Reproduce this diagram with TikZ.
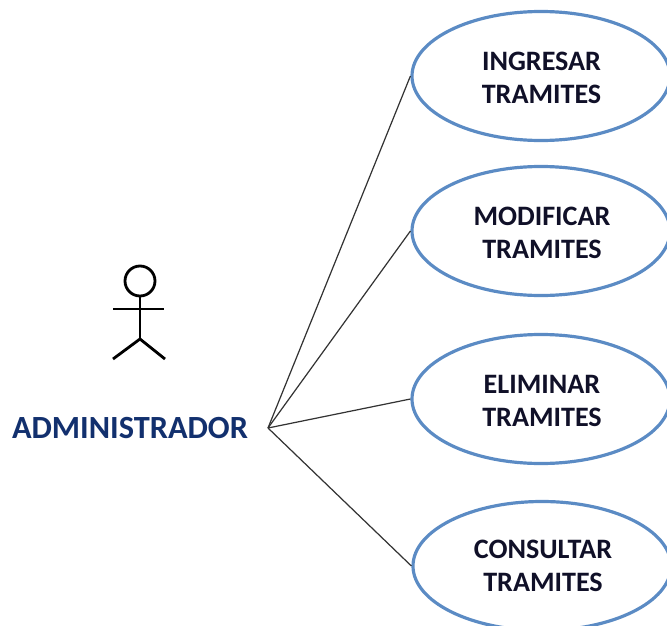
\documentclass[tikz,border=0pt]{standalone}
\usepackage{fontspec}
\setmainfont{Carlito}
\usetikzlibrary{shapes.geometric}
\definecolor{ublue}{HTML}{5B8BC4}
\definecolor{adm}{HTML}{12306E}
\definecolor{ucol}{HTML}{101028}
\tikzset{
 px/.style={x=0.0375cm,y=-0.0375cm},
 usecase/.style={ellipse,draw=ublue,line width=3.4pt,minimum width=258*0.0375cm,minimum height=129*0.0375cm,inner sep=0pt},
 ucl/.style={font=\fontsize{30}{36}\selectfont\bfseries,text=ucol,align=center},
 link/.style={draw=black!80,line width=1.3pt},
 actor/.style={draw=black,line width=3pt}
}
\begin{document}
\begin{tikzpicture}[px]
\useasboundingbox (0,0) rectangle (667,625);
\node[usecase] (a) at (541,76) {};
\node[usecase] (b) at (541,231) {};
\node[usecase] (c) at (541,399) {};
\node[usecase] (d) at (542,566) {};
\node[ucl] (ta) at (541.5,78) {INGRESAR\\TRAMITES};
\node[ucl] (tb) at (542,233) {MODIFICAR\\TRAMITES};
\node[ucl] (tc) at (542,401) {ELIMINAR\\TRAMITES};
\node[ucl] (td) at (543,566) {CONSULTAR\\TRAMITES};
\coordinate (hub) at (268,428);
\draw[link] (hub) -- (a.west);
\draw[link] (hub) -- (b.west);
\draw[link] (hub) -- (c.west);
\draw[link] (hub) -- (d.west);
\node[font=\fontsize{34.5}{40}\selectfont\bfseries,text=adm] (adm) at (130,428) {ADMINISTRADOR};
\node[circle,actor,minimum size=30*0.0375cm,inner sep=0pt] (head) at (140,281) {};
\coordinate (hip) at (140,339);
\coordinate (la) at (113,309);
\coordinate (ra) at (164,309);
\coordinate (ll) at (113,359);
\coordinate (rl) at (165,359);
\draw[actor] (head) -- (hip);
\draw[actor] (la) -- (ra);
\draw[actor] (ll) -- (hip) -- (rl);
\end{tikzpicture}
\end{document}
